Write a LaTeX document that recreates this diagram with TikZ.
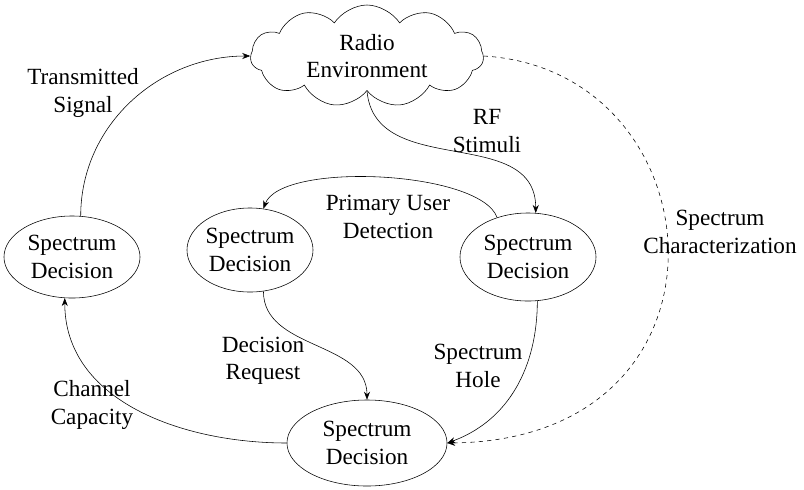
\documentclass[tikz,border=0pt]{standalone}
\usepackage{fontspec}
\setmainfont{Liberation Serif}
\usetikzlibrary{arrows.meta}
\usetikzlibrary{shapes.geometric}
\usetikzlibrary{shapes.symbols}
\usetikzlibrary{positioning}

\begin{document}
\begin{tikzpicture}[x=0.025cm, y=-0.025cm,
    every node/.style={font=\fontsize{16.5}{19.5}\selectfont, align=center},
    decision/.style={draw, ellipse, inner xsep=-2pt, inner ysep=0pt},
    link/.style={-{Stealth[length=2mm, width=1.5mm]}, thin}]
    \useasboundingbox (0,0) rectangle (804,489);
    \node[draw, cloud, cloud puffs=11, cloud puff arc=115, aspect=2.4,
      minimum width=233*0.025cm, minimum height=102*0.025cm, inner xsep=-6pt, inner ysep=-4pt] (env) at (367,56) {Radio\\Environment};
    \node[decision, minimum width=3.4cm, minimum height=2.05cm] (left) at (72,257) {Spectrum\\Decision};
    \node[decision, minimum width=3.15cm, minimum height=2.1cm] (mid) at (250,250) {Spectrum\\Decision};
    \node[decision, minimum width=3.4cm, minimum height=2.2cm] (right) at (528,257) {Spectrum\\Decision};
    \node[decision, minimum width=4cm, minimum height=2.15cm] (bot) at (367,443) {Spectrum\\Decision};
    % labels
    \node (tx) at (83,93) {Transmitted\\Signal};
    \node (rf) at (487,131) {RF\\Stimuli};
    \node (pu) at (388,217) {Primary User\\Detection};
    \node (req) at (263,361) {Decision\\Request};
    \node (hole) at (478,366) {Spectrum\\Hole};
    \node (cap) at (92,405) {Channel\\Capacity};
    \node (char) at (720,232) {Spectrum\\Characterization};
    % connectors
    \draw[link] (left.78) to[out=90, in=180] (env.west);
    \draw[link] (env.south) to[out=-85, in=90, looseness=1.1] (right.80);
    \draw[link] (right.128) to[out=110, in=70, looseness=0.55] (mid.72);
    \draw[link] (mid.-72) to[out=-90, in=90] (bot.north);
    \draw[link] (right.-78) to[out=-90, in=20] (bot.east);
    \draw[link] (bot.west) to[out=180, in=-90] (left.-100);
    \draw[link, dashed] (env.east) .. controls (720,70) and (750,440) .. (bot.east);
\end{tikzpicture}
\end{document}
